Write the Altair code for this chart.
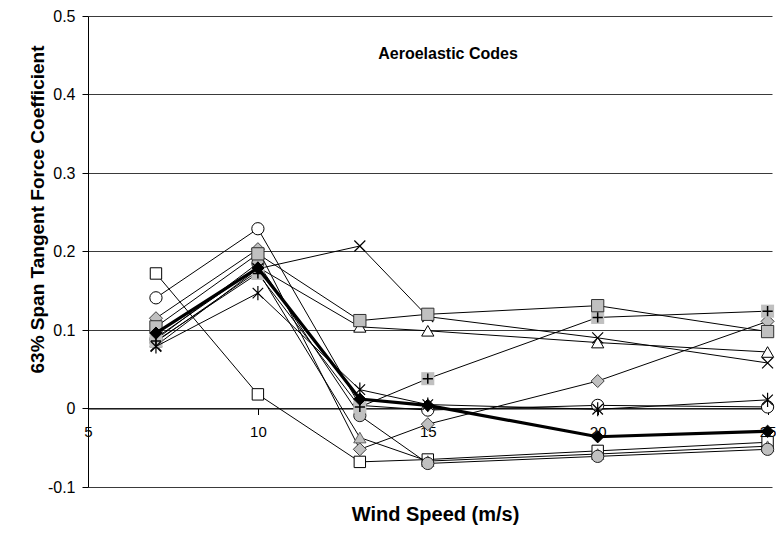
import altair as alt
import pandas as pd

wind_speed = [7, 10, 13, 15, 20, 25]

open_square = [0.172, 0.018, -0.068, -0.065, -0.054, -0.043]
open_circle = [0.141, 0.229, 0.004, -0.002, 0.004, 0.002]
gray_diamond = [0.115, 0.203, -0.052, -0.020, 0.035, 0.111]
gray_square = [0.104, 0.197, 0.112, 0.120, 0.131, 0.098]
open_triangle = [0.090, 0.180, 0.104, 0.099, 0.084, 0.072]
cross_x = [0.080, 0.178, 0.207, 0.117, 0.090, 0.058]
gray_plus = [0.086, 0.172, 0.002, 0.038, 0.116, 0.124]
asterisk = [0.079, 0.147, 0.024, 0.005, -0.001, 0.011]
gray_circle = [0.088, 0.185, -0.009, -0.070, -0.061, -0.052]
gray_triangle = [0.085, 0.175, -0.037, -0.067, -0.058, -0.048]
black_diamond = [0.096, 0.179, 0.012, 0.004, -0.036, -0.029]

series = {
    "open_square": open_square,
    "open_circle": open_circle,
    "gray_diamond": gray_diamond,
    "gray_triangle": gray_triangle,
    "gray_circle": gray_circle,
    "open_triangle": open_triangle,
    "cross_x": cross_x,
    "gray_plus": gray_plus,
    "gray_square": gray_square,
    "asterisk": asterisk,
    "black_diamond": black_diamond,
}

rows = []
for name, vals in series.items():
    for ws, v in zip(wind_speed, vals):
        rows.append({"series": name, "ws": ws, "cf": v})
df = pd.DataFrame(rows)

FONT = "Liberation Sans"
GRAY = "#C0C0C0"
X_PATH = "M-1,-1L1,1M-1,1L1,-1"
STAR_PATH = "M-1,-1L1,1M-1,1L1,-1M0,-1.35L0,1.35"
PLUS_PATH = "M-0.9,0L0.9,0M0,-0.9L0,0.9"

W, H = 684, 471
PAD_L, PAD_T, PAD_R, PAD_B = 80, 8, 4, 38

x_scale = alt.Scale(domain=[5, 25.13], nice=False, zero=False)
y_scale = alt.Scale(domain=[-0.1, 0.5], nice=False, zero=False)

x_axis = alt.Axis(
    values=[5, 10, 15, 20, 25], offset=-H / 6, grid=False,
    domain=True, domainColor="#000000", domainWidth=1,
    ticks=True, tickColor="#000000", tickSize=6,
    labelFont=FONT, labelFontSize=15, labelColor="#000000", labelPadding=10,
    labelAlign="center",
    title="Wind Speed (m/s)", titleFont=FONT, titleFontSize=20, titleFontWeight="bold",
    titleColor="#000000", titleX=W / 2 + 5, titleY=106, titleBaseline="middle", titleAlign="center",
)
y_axis = alt.Axis(
    values=[-0.1, 0, 0.1, 0.2, 0.3, 0.4, 0.5],
    labelExpr="datum.value < 0 ? '-' + format(-datum.value, '.1~f') : format(datum.value, '.1~f')",
    grid=True, gridColor="#3a3a3a", gridWidth=1, gridOpacity=1,
    domain=True, domainColor="#000000", domainWidth=1,
    ticks=True, tickColor="#000000", tickSize=6,
    labelFont=FONT, labelFontSize=16, labelColor="#000000", labelPadding=7,
    title="63% Span Tangent Force Coefficient", titleFont=FONT, titleFontSize=19,
    titleFontWeight="bold", titleColor="#000000", titleAngle=270,
    titleX=-51, titleY=193, titleBaseline="middle", titleAlign="center",
)

base = alt.Chart(df)
X = alt.X("ws:Q", scale=x_scale, axis=x_axis)
Y = alt.Y("cf:Q", scale=y_scale, axis=y_axis)


def layer_for(name, marks, line_width=1.0):
    sub = base.transform_filter(alt.datum.series == name)
    out = [sub.mark_line(color="#000000", strokeWidth=line_width).encode(x=X, y=Y)]
    for m in marks:
        out.append(sub.mark_point(**m).encode(x=X, y=Y))
    return out


def sym(shape, fill, stroke, size=144, sw=1.0):
    d = dict(shape=shape, size=size, opacity=1, strokeWidth=sw)
    if fill is None:
        d.update(filled=False, stroke=stroke)
    else:
        d.update(filled=True, fill=fill)
        if stroke is not None:
            d["stroke"] = stroke
        else:
            d["strokeWidth"] = 0
    return d


layers = []
layers += layer_for("open_square", [sym("square", "#FFFFFF", "#000000", 130)])
layers += layer_for("open_circle", [sym("circle", "#FFFFFF", "#000000", 150)])
layers += layer_for("gray_diamond", [sym("diamond", GRAY, "#404040", 170)])
layers += layer_for("gray_triangle", [sym("triangle-up", GRAY, "#606060", 150)])
layers += layer_for("gray_circle", [sym("circle", GRAY, "#202020", 150)])
layers += layer_for("open_triangle", [sym("triangle-up", "#FFFFFF", "#000000", 150)])
layers += layer_for("cross_x", [sym(X_PATH, None, "#000000", 120, 1.2)])
layers += layer_for("gray_plus", [sym("square", GRAY, None, 170), sym(PLUS_PATH, None, "#000000", 130, 1.5)])
layers += layer_for("gray_square", [sym("square", GRAY, "#303030", 150)])
layers += layer_for("asterisk", [sym(STAR_PATH, None, "#000000", 110, 1.2)])
layers += layer_for("black_diamond", [sym("diamond", "#000000", "#000000", 150)], line_width=3.2)

chart = alt.layer(*layers).properties(
    width=W, height=H,
    autosize=alt.AutoSizeParams(type="none"),
    padding={"left": PAD_L, "top": PAD_T, "right": PAD_R, "bottom": PAD_B},
    title=alt.TitleParams(
        text="Aeroelastic Codes", font=FONT, fontSize=16, fontWeight="bold",
        color="#000000", anchor="middle", frame="group", orient="top",
        offset=-62, baseline="middle", dx=18,
    ),
).configure_view(stroke=None)

chart.save("out.html", embed_options={"renderer": "svg", "actions": False})
